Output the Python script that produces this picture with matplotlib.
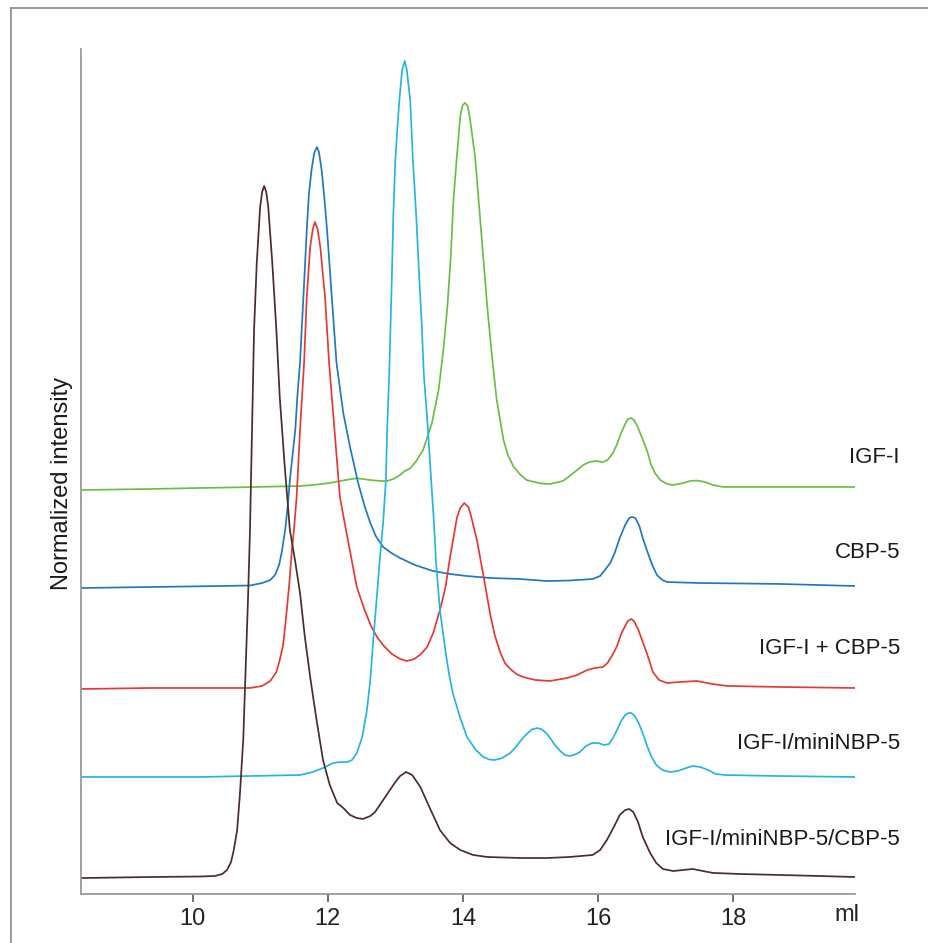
import matplotlib
matplotlib.use("Agg")
import matplotlib.pyplot as plt
from matplotlib.lines import Line2D

plt.rcParams['font.family'] = ['Liberation Sans', 'DejaVu Sans']

# ---- data (elution volume in ml, stacked normalized intensity) ----
igf_x = [8.35, 9.37, 10.11, 10.70, 11.59, 11.78, 12.03, 12.26, 12.43, 12.63,
         12.77, 12.88, 12.97, 13.07, 13.14, 13.22, 13.31, 13.41, 13.54, 13.64,
         13.71, 13.77, 13.82, 13.86, 13.91, 13.96, 13.99, 14.03, 14.07, 14.10,
         14.18, 14.24, 14.30, 14.36, 14.43, 14.50, 14.60, 14.67, 14.75, 14.84,
         14.94, 15.14, 15.29, 15.48, 15.58, 15.69, 15.78, 15.87, 15.97, 16.07,
         16.14, 16.22, 16.28, 16.34, 16.40, 16.44, 16.49, 16.53, 16.58, 16.64,
         16.73, 16.78, 16.84, 16.92, 17.02, 17.11, 17.26, 17.36, 17.46, 17.58,
         17.70, 17.85, 18.69, 19.80]
igf_y = [47.81, 47.93, 48.05, 48.13, 48.28, 48.40, 48.64, 48.99, 49.20, 48.99,
         48.88, 48.88, 49.11, 49.59, 50.06, 50.38, 51.24, 52.54, 55.70, 59.64,
         64.38, 69.50, 75.42, 82.13, 87.25, 91.99, 93.25, 93.64, 93.25, 91.99,
         87.25, 81.34, 75.42, 69.50, 63.59, 58.46, 53.73, 51.83, 50.57, 49.70,
         48.99, 48.60, 48.52, 48.88, 49.47, 50.18, 50.77, 51.12, 51.24, 51.12,
         51.36, 52.19, 53.25, 54.56, 55.62, 56.21, 56.33, 56.09, 55.38, 54.20,
         52.31, 50.89, 49.82, 48.99, 48.52, 48.40, 48.64, 48.88, 48.93, 48.76,
         48.40, 48.17, 48.17, 48.17]

cbp_x = [8.35, 9.37, 10.41, 10.85, 11.03, 11.15, 11.22, 11.28, 11.32, 11.37,
         11.41, 11.44, 11.48, 11.52, 11.55, 11.59, 11.64, 11.69, 11.72, 11.76,
         11.80, 11.84, 11.87, 11.91, 11.95, 11.99, 12.06, 12.13, 12.23, 12.33,
         12.45, 12.54, 12.63, 12.71, 12.82, 12.94, 13.07, 13.29, 13.56, 13.81,
         14.06, 14.40, 14.84, 15.24, 15.58, 15.92, 16.03, 16.10, 16.18, 16.25,
         16.32, 16.40, 16.46, 16.50, 16.55, 16.61, 16.66, 16.72, 16.80, 16.87,
         16.95, 17.02, 17.51, 18.10, 18.69, 19.80]
cbp_y = [36.21, 36.33, 36.45, 36.51, 36.80, 37.16, 37.75, 38.93, 40.47, 43.08,
         46.04, 48.99, 51.95, 54.91, 58.82, 62.84, 70.65, 78.58, 82.72, 85.68,
         87.69, 88.40, 87.81, 85.68, 82.37, 78.58, 70.65, 62.84, 56.92, 52.90,
         48.64, 46.04, 43.91, 42.37, 41.07, 40.36, 39.76, 38.93, 38.22, 37.87,
         37.63, 37.40, 37.28, 37.04, 37.10, 37.28, 37.63, 38.34, 39.17, 40.47,
         42.13, 43.67, 44.50, 44.62, 44.50, 43.55, 42.13, 40.71, 38.93, 37.75,
         37.16, 36.92, 36.80, 36.75, 36.69, 36.45]

mix_x = [8.35, 9.37, 10.85, 11.03, 11.15, 11.24, 11.29, 11.34, 11.38, 11.43,
         11.47, 11.50, 11.54, 11.59, 11.65, 11.69, 11.74, 11.78, 11.81, 11.85,
         11.89, 11.96, 12.02, 12.10, 12.18, 12.27, 12.36, 12.43, 12.54, 12.64,
         12.73, 12.83, 12.95, 13.07, 13.17, 13.28, 13.38, 13.47, 13.56, 13.66,
         13.74, 13.81, 13.87, 13.91, 13.96, 14.02, 14.08, 14.12, 14.16, 14.21,
         14.25, 14.31, 14.40, 14.47, 14.55, 14.62, 14.70, 14.79, 14.89, 15.07,
         15.29, 15.54, 15.69, 15.84, 15.95, 16.07, 16.14, 16.22, 16.28, 16.34,
         16.40, 16.44, 16.49, 16.53, 16.59, 16.65, 16.73, 16.81, 16.90, 17.02,
         17.21, 17.46, 17.69, 17.91, 18.69, 19.80]
mix_y = [24.26, 24.38, 24.38, 24.62, 25.21, 26.27, 27.69, 29.47, 32.43, 36.57,
         40.71, 43.08, 46.98, 54.91, 62.84, 70.65, 76.57, 78.70, 79.53, 78.70,
         76.57, 70.65, 62.84, 54.91, 46.98, 43.08, 39.29, 36.33, 33.73, 31.72,
         30.41, 29.35, 28.40, 27.81, 27.57, 27.81, 28.40, 29.23, 30.89, 33.61,
         36.21, 39.88, 42.60, 44.50, 45.68, 46.27, 45.80, 44.73, 43.43, 41.78,
         40.00, 37.40, 33.25, 30.65, 28.64, 27.34, 26.63, 26.04, 25.68, 25.33,
         25.21, 25.56, 25.92, 26.51, 26.75, 26.86, 27.34, 28.40, 29.35, 30.77,
         31.72, 32.31, 32.54, 32.31, 31.36, 30.06, 28.28, 26.27, 25.33, 24.97,
         25.09, 25.21, 24.85, 24.62, 24.50, 24.38]

mini_x = [8.35, 10.11, 11.59, 11.78, 11.93, 12.08, 12.18, 12.29, 12.36, 12.43,
          12.51, 12.58, 12.63, 12.67, 12.72, 12.77, 12.82, 12.86, 12.88, 12.91,
          12.93, 12.95, 12.97, 13.00, 13.03, 13.06, 13.10, 13.14, 13.17, 13.22,
          13.24, 13.26, 13.31, 13.35, 13.39, 13.42, 13.48, 13.53, 13.57, 13.60,
          13.63, 13.66, 13.71, 13.75, 13.80, 13.85, 13.96, 14.06, 14.18, 14.30,
          14.39, 14.47, 14.58, 14.70, 14.77, 14.84, 14.90, 14.96, 15.02, 15.10,
          15.17, 15.23, 15.29, 15.36, 15.44, 15.51, 15.58, 15.66, 15.73, 15.82,
          15.91, 16.00, 16.09, 16.16, 16.22, 16.28, 16.34, 16.40, 16.45, 16.49,
          16.54, 16.60, 16.67, 16.73, 16.79, 16.86, 16.95, 17.06, 17.18, 17.30,
          17.40, 17.51, 17.63, 17.74, 17.88, 18.69, 19.80]
mini_y = [13.85, 13.85, 14.08, 14.44, 14.91, 15.50, 15.62, 15.62, 15.86, 16.69,
          18.58, 21.78, 25.33, 29.70, 34.56, 39.53, 44.02, 48.99, 55.27, 61.66,
          67.57, 73.49, 80.24, 86.86, 90.65, 93.96, 97.51, 98.58, 97.51, 93.96,
          90.41, 86.86, 80.12, 73.49, 67.57, 61.66, 55.27, 48.99, 44.14, 39.53,
          36.45, 33.61, 30.65, 28.28, 25.80, 23.79, 20.83, 18.58, 17.16, 16.21,
          15.92, 15.86, 16.09, 16.69, 17.28, 17.99, 18.58, 19.05, 19.47, 19.64,
          19.47, 19.05, 18.46, 17.63, 16.92, 16.45, 16.33, 16.51, 16.80, 17.51,
          17.87, 17.87, 17.63, 17.75, 18.46, 19.41, 20.47, 21.18, 21.42, 21.42,
          21.07, 20.24, 18.82, 17.40, 16.21, 15.27, 14.67, 14.44, 14.56, 14.91,
          15.15, 15.03, 14.67, 14.20, 14.08, 13.96, 13.85]

tri_x = [8.35, 9.37, 10.11, 10.33, 10.44, 10.51, 10.57, 10.61, 10.66, 10.70,
         10.75, 10.79, 10.82, 10.85, 10.87, 10.89, 10.91, 10.95, 11.00, 11.03,
         11.06, 11.09, 11.12, 11.18, 11.24, 11.29, 11.36, 11.44, 11.52, 11.59,
         11.66, 11.74, 11.83, 11.93, 12.03, 12.14, 12.23, 12.33, 12.43, 12.52,
         12.63, 12.70, 12.82, 12.92, 13.00, 13.07, 13.16, 13.25, 13.37, 13.51,
         13.66, 13.81, 13.96, 14.15, 14.36, 14.85, 15.24, 15.58, 15.92, 16.03,
         16.13, 16.24, 16.32, 16.40, 16.46, 16.52, 16.59, 16.66, 16.77, 16.86,
         16.96, 17.11, 17.26, 17.40, 17.55, 17.70, 18.10, 18.69, 19.28, 19.80]
tri_y = [1.89, 2.01, 2.07, 2.13, 2.37, 2.84, 3.79, 5.21, 7.57, 11.72,
         18.22, 27.69, 34.79, 43.08, 51.01, 58.82, 66.75, 74.67, 81.30, 83.08,
         83.79, 83.08, 81.30, 74.67, 66.75, 58.82, 51.01, 43.08, 39.29, 35.62,
         30.53, 25.68, 20.83, 15.86, 12.90, 10.77, 10.18, 9.35, 8.99, 8.88,
         9.23, 9.70, 11.12, 12.31, 13.25, 13.96, 14.44, 14.08, 12.66, 10.18,
         7.57, 6.04, 5.21, 4.62, 4.38, 4.26, 4.26, 4.38, 4.62, 5.21,
         6.39, 8.05, 9.35, 9.94, 10.06, 9.70, 8.52, 6.75, 4.85, 3.67,
         2.96, 2.72, 2.84, 2.96, 2.72, 2.49, 2.37, 2.25, 2.13, 2.01]

series_names = ["IGF-I", "CBP-5", "IGF-I + CBP-5", "IGF-I/miniNBP-5", "IGF-I/miniNBP-5/CBP-5"]
series_x = [igf_x, cbp_x, mix_x, mini_x, tri_x]
series_y = [igf_y, cbp_y, mix_y, mini_y, tri_y]
series_colors = ["#6cbd45", "#1f78c1", "#e23a36", "#27b3e4", "#4a2c2c"]
label_ypos = [0.516, 0.404, 0.290, 0.178, 0.064]

x_ticks = [10, 12, 14, 16, 18]

# ---- figure ----
W, H = 929, 943
fig = plt.figure(figsize=(W / 100, H / 100), dpi=100)
fig.patch.set_facecolor("white")

# outer frame (top and left edges visible)
fig.add_artist(Line2D([11 / W, 1.0], [1 - 8 / H, 1 - 8 / H], transform=fig.transFigure,
                      color="#8a8a8a", lw=1.2))
fig.add_artist(Line2D([11 / W, 11 / W], [0.0, 1 - 8 / H], transform=fig.transFigure,
                      color="#8a8a8a", lw=1.2))

ax = fig.add_axes([81 / W, 1 - 894 / H, (855 - 81) / W, (894 - 49) / H])
for xs, ys, c in zip(series_x, series_y, series_colors):
    ax.plot(xs, ys, color=c, lw=1.25, solid_joinstyle="round", solid_capstyle="round")

ax.set_xlim(8.35, 19.80)
ax.set_ylim(0, 100)
ax.set_xticks(x_ticks)
ax.set_xticklabels([str(t) for t in x_ticks], fontsize=17, color="#222222")
ax.set_yticks([])
ax.tick_params(axis="x", direction="out", length=6, width=1.2, color="#555555", pad=4)
for s in ["top", "right"]:
    ax.spines[s].set_visible(False)
ax.spines["left"].set_color("#9a9a9a")
ax.spines["bottom"].set_color("#9a9a9a")
ax.spines["left"].set_linewidth(1.3)
ax.spines["bottom"].set_linewidth(1.3)

for name, yp in zip(series_names, label_ypos):
    ax.text(1.058, yp, name, transform=ax.transAxes, ha="right", va="center",
            fontsize=16, color="#1a1a1a", clip_on=False)

fig.text(847 / W, 1 - 915 / H, "ml", ha="center", va="center", fontsize=17, color="#222222")
fig.text(62 / W, 1 - 483 / H, "Normalized intensity", rotation=90, ha="center", va="center",
         fontsize=17, color="#1a1a1a")

fig.savefig("out.png", dpi=100, facecolor="white")
